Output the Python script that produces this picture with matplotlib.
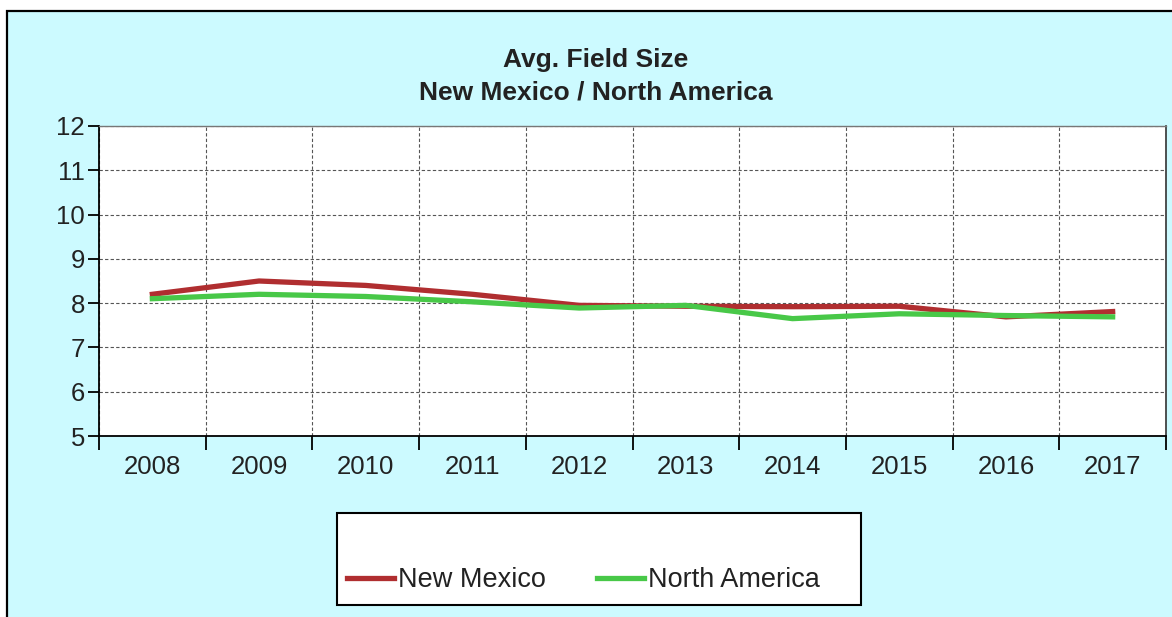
import matplotlib
matplotlib.use("Agg")
import matplotlib.pyplot as plt
from matplotlib.patches import Rectangle
from matplotlib.lines import Line2D

years = ["2008", "2009", "2010", "2011", "2012", "2013", "2014", "2015", "2016", "2017"]
new_mexico = [8.2, 8.5, 8.4, 8.2, 7.95, 7.93, 7.92, 7.93, 7.69, 7.81]
north_america = [8.1, 8.2, 8.15, 8.03, 7.89, 7.95, 7.65, 7.76, 7.72, 7.69]
y_ticks = [5, 6, 7, 8, 9, 10, 11, 12]
title_lines = ["Avg. Field Size", "New Mexico / North America"]
series_names = ["New Mexico", "North America"]

RED = "#B02E30"
GREEN = "#48C848"
BG = "#CCFAFF"

plt.rcParams["font.family"] = ["Liberation Sans", "DejaVu Sans"]

W, H = 1172, 617
fig = plt.figure(figsize=(W / 100, H / 100), dpi=100)
fig.patch.set_facecolor("white")

# outer panel with border (cut at right/bottom like the reference)
panel = Rectangle((7 / W, -0.05), 1.2, 1 - 11 / H + 0.05, transform=fig.transFigure,
                  facecolor=BG, edgecolor="black", linewidth=1.6, zorder=-5)
fig.patches.append(panel)

ax = fig.add_axes([99 / W, 1 - 436 / H, (1166 - 99) / W, (436 - 126) / H])
ax.set_zorder(3)
ax.set_facecolor("white")

x = list(range(len(years)))
ax.plot(x, new_mexico, color=RED, lw=3.8, solid_joinstyle="round", zorder=3)
ax.plot(x, north_america, color=GREEN, lw=3.8, solid_joinstyle="round", zorder=3)

ax.set_xlim(-0.5, len(years) - 0.5)
ax.set_ylim(5, 12)

# boundaries ticks (major) for grid/tick marks, centers (minor) for labels
ax.set_xticks([i - 0.5 for i in range(len(years) + 1)])
ax.set_xticklabels([])
ax.set_xticks(x, minor=True)
ax.set_xticklabels(years, minor=True)
ax.tick_params(axis="x", which="major", direction="out", length=10, width=1.3, color="black")
ax.tick_params(axis="x", which="minor", length=0, pad=14, labelsize=18.5, labelcolor="#222222")

ax.set_yticks(y_ticks)
ax.set_yticklabels([str(v) for v in y_ticks])
ax.tick_params(axis="y", direction="out", length=8, width=1.3, pad=2, labelsize=18.5,
               labelcolor="#222222")

ax.grid(True, which="major", axis="both", linestyle=(0, (3, 2)), color="#555555", linewidth=0.8)
ax.set_axisbelow(True)

for side in ["left", "bottom"]:
    ax.spines[side].set_color("black")
    ax.spines[side].set_linewidth(1.3)
ax.spines["top"].set_color("#777777")
ax.spines["top"].set_linewidth(1.0)
ax.spines["right"].set_color("#333333")
ax.spines["right"].set_linewidth(1.2)

# title
fig.text(596 / W, 1 - 60 / H, title_lines[0], ha="center", va="center",
         fontsize=19, fontweight="bold", color="#222222")
fig.text(596 / W, 1 - 93 / H, title_lines[1], ha="center", va="center",
         fontsize=19, fontweight="bold", color="#222222")

# legend box
lbox = Rectangle((337 / W, 1 - 605 / H), (861 - 337) / W, (605 - 513) / H,
                 transform=fig.transFigure, facecolor="white", edgecolor="black",
                 linewidth=1.5, zorder=1)
fig.patches.append(lbox)

handles = [Line2D([], [], color=RED, lw=3.8), Line2D([], [], color=GREEN, lw=3.8)]
leg = fig.legend(handles, series_names, loc="center left",
                 bbox_to_anchor=(347 / W, 1 - 580 / H), ncol=2, frameon=False,
                 fontsize=19.5, handlelength=1.75, handletextpad=0.12,
                 columnspacing=1.9, borderpad=0, borderaxespad=0)
for t in leg.get_texts():
    t.set_color("#222222")
leg.set_zorder(4)

fig.savefig("out.png", dpi=100, facecolor=fig.get_facecolor())
